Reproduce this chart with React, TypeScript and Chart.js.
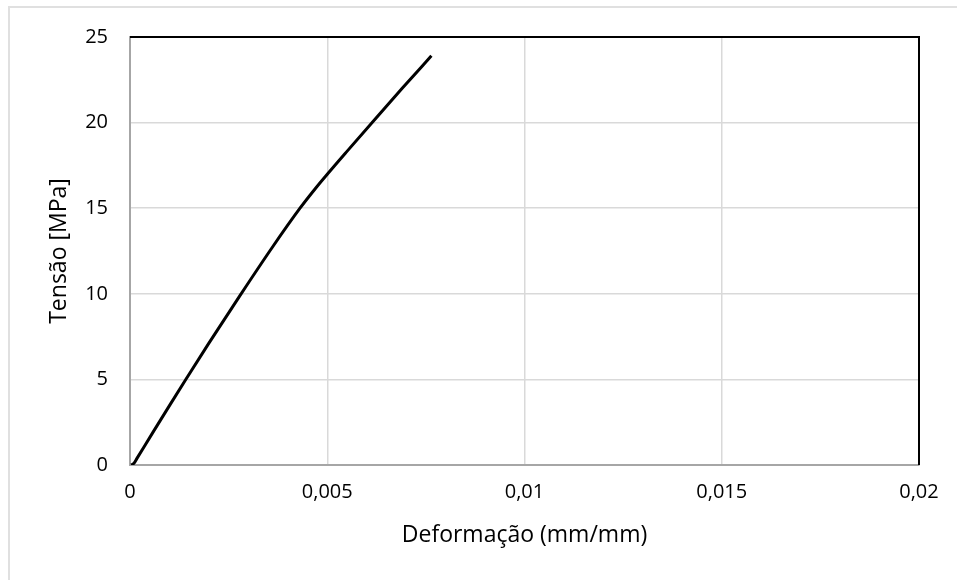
import React, { useEffect, useRef } from "react";
import { Chart, registerables } from "chart.js";

Chart.register(...registerables);

const strain = [0.00003, 0.0001, 0.00018, 0.0006, 0.001, 0.00141, 0.002, 0.00282, 0.0036, 0.0043, 0.0047, 0.005, 0.0055, 0.0062, 0.0069, 0.00764];
const stress = [0, 0.1, 0.4, 1.98, 3.47, 4.98, 7.12, 10.01, 12.69, 14.97, 16.15, 16.98, 18.32, 20.17, 22.0, 23.9];

const xTicks = [0, 0.005, 0.01, 0.015, 0.02];
const xTickLabels = ["0", "0,005", "0,01", "0,015", "0,02"];
const yTicks = [0, 5, 10, 15, 20, 25];
const yTickLabels = ["0", "5", "10", "15", "20", "25"];

const xTitle = "Deformação (mm/mm)";
const yTitle = "Tensão [MPa]";

const FONT = "'Open Sans', 'Noto Sans', sans-serif";

const frameBorder = {
  id: "frameBorder",
  afterDatasetsDraw(chart: any) {
    const { ctx, chartArea } = chart;
    ctx.save();
    ctx.strokeStyle = "#000";
    ctx.lineWidth = 2;
    ctx.beginPath();
    ctx.moveTo(chartArea.left, chartArea.top);
    ctx.lineTo(chartArea.right, chartArea.top);
    ctx.lineTo(chartArea.right, chartArea.bottom);
    ctx.stroke();
    ctx.restore();
  },
};

export default function App() {
  const ref = useRef<HTMLCanvasElement | null>(null);

  useEffect(() => {
    if (!ref.current) return;
    const chart = new Chart(ref.current, {
      type: "scatter",
      data: {
        datasets: [
          {
            data: strain.map((x, i) => ({ x, y: stress[i] })),
            showLine: true,
            borderColor: "#000",
            borderWidth: 3,
            pointRadius: 0,
            cubicInterpolationMode: "monotone",
            fill: false,
          },
        ],
      },
      options: {
        animation: false,
        responsive: true,
        maintainAspectRatio: false,
        layout: { padding: { left: 0, top: 37, right: 38, bottom: 0 } },
        plugins: { legend: { display: false }, tooltip: { enabled: false } },
        scales: {
          x: {
            type: "linear",
            min: 0,
            max: 0.02,
            afterFit: (s: any) => {
              s.height = 115;
            },
            afterBuildTicks: (s: any) => {
              s.ticks = xTicks.map((v) => ({ value: v }));
            },
            ticks: {
              callback: (_v: any, i: number) => xTickLabels[i],
              font: { family: FONT, size: 20 },
              color: "#000",
              padding: 15,
              maxRotation: 0,
            },
            grid: { color: "#d9d9d9", lineWidth: 1.5, drawTicks: false },
            border: { color: "#a6a6a6", width: 2 },
            title: {
              display: true,
              text: xTitle,
              font: { family: FONT, size: 23 },
              color: "#000",
              padding: { top: 0, bottom: 31 },
            },
          },
          y: {
            type: "linear",
            min: 0,
            max: 25,
            afterFit: (s: any) => {
              s.width = 130;
            },
            afterBuildTicks: (s: any) => {
              s.ticks = yTicks.map((v) => ({ value: v }));
            },
            ticks: {
              callback: (_v: any, i: number) => yTickLabels[i],
              font: { family: FONT, size: 20 },
              color: "#000",
              padding: 22,
            },
            grid: { color: "#d9d9d9", lineWidth: 1.5, drawTicks: false },
            border: { color: "#a6a6a6", width: 2 },
            title: {
              display: true,
              text: yTitle,
              font: { family: FONT, size: 23 },
              color: "#000",
              padding: { top: 46, bottom: 0 },
            },
          },
        },
      },
      plugins: [frameBorder],
    });
    return () => chart.destroy();
  }, []);

  return (
    <div
      style={{
        position: "fixed",
        left: 0,
        top: 0,
        width: 957,
        height: 580,
        background: "#fff",
      }}
    >
      <div
        style={{
          position: "absolute",
          left: 8,
          top: 6,
          right: -4,
          bottom: -4,
          borderLeft: "2px solid #e0e0e0",
          borderTop: "2px solid #e0e0e0",
        }}
      />
      <canvas ref={ref} style={{ position: "absolute", left: 0, top: 0 }} />
    </div>
  );
}
